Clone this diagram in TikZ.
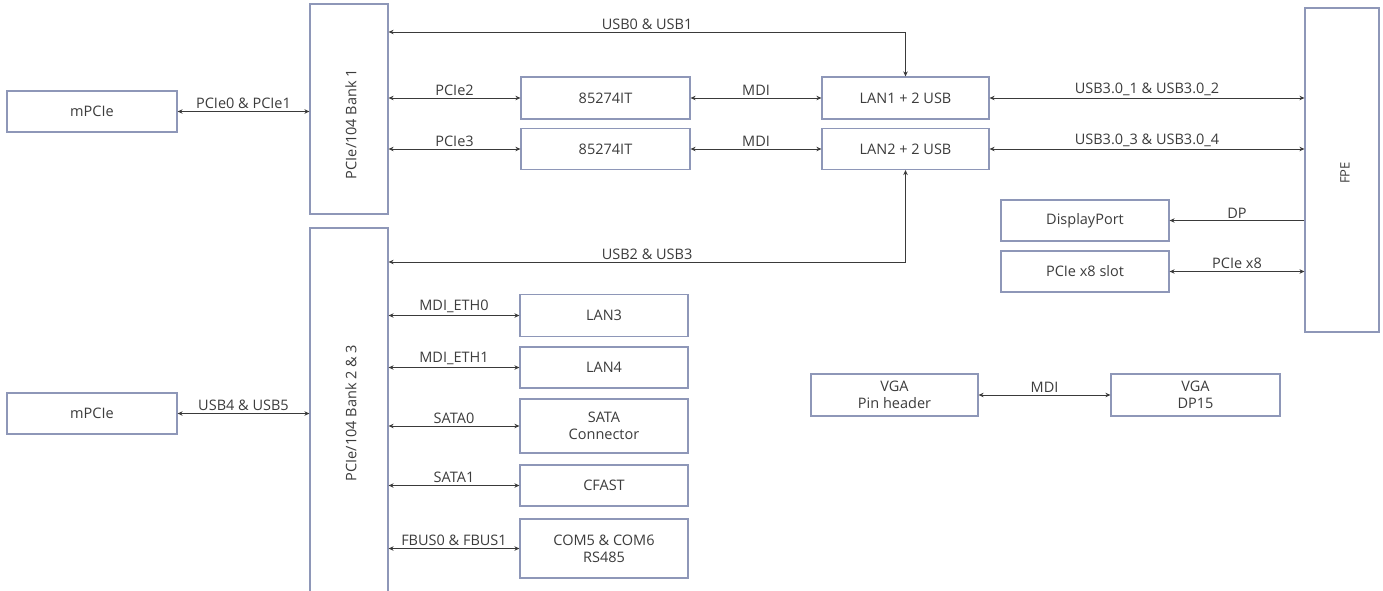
\documentclass[tikz,border=0pt]{standalone}
\usepackage{fontspec}
\setmainfont{Open Sans}
\usetikzlibrary{arrows.meta}
\definecolor{boxline}{HTML}{8E97B8}
\definecolor{wire}{HTML}{3A3A3A}
\definecolor{txt}{HTML}{3C3C3C}
\tikzset{
  blk/.style={draw=boxline, line width=1.2pt, fill=white, inner sep=0pt, align=center,
    text=txt, font=\fontsize{14.5}{17}\selectfont},
  wirel/.style={draw=wire, line width=0.8pt},
  bi/.style={wirel, {Stealth[length=5pt,width=4.5pt]}-{Stealth[length=5pt,width=4.5pt]}},
  uni/.style={wirel, -{Stealth[length=5pt,width=4.5pt]}},
  lbl/.style={above, inner sep=2pt, text=txt, font=\fontsize{14.5}{17}\selectfont},
  vtxt/.style={rotate=90, text=txt, font=\fontsize{14.5}{17}\selectfont}
}
\begin{document}
\begin{tikzpicture}[x=1pt,y=-1pt]
\useasboundingbox (0,0) rectangle (1383,591);
% boxes
\node[blk, minimum width=170pt, minimum height=41pt] (mp1) at (92,111.5) {mPCIe};
\node[blk, minimum width=170pt, minimum height=41pt] (mp2) at (92,413.5) {mPCIe};
\node[blk, minimum width=78pt, minimum height=210pt] (bank1) at (349,109) {};
\node[vtxt] (bank1t) at (351,124) {PCIe/104 Bank 1};
\node[blk, minimum width=78pt, minimum height=366pt] (bank2) at (349,411) {};
\node[vtxt] (bank2t) at (351,413) {PCIe/104 Bank 2 \& 3};
\node[blk, minimum width=169pt, minimum height=42pt] (c1) at (605.5,98) {85274IT};
\node[blk, minimum width=169pt, minimum height=41pt] (c2) at (605.5,149) {85274IT};
\node[blk, minimum width=167pt, minimum height=42pt] (lan1) at (905.5,98) {LAN1 + 2 USB};
\node[blk, minimum width=167pt, minimum height=41pt] (lan2) at (905.5,149) {LAN2 + 2 USB};
\node[blk, minimum width=74pt, minimum height=324pt] (fpe) at (1342,170) {};
\node[rotate=90, text=txt, font=\fontsize{13}{15}\selectfont] (fpet) at (1345,173) {FPE};
\node[blk, minimum width=168pt, minimum height=41pt] (dp) at (1085,220.5) {DisplayPort};
\node[blk, minimum width=168pt, minimum height=41pt] (px8) at (1085,271.5) {PCIe x8 slot};
\node[blk, minimum width=168pt, minimum height=42pt] (lan3) at (604,315.5) {LAN3};
\node[blk, minimum width=168pt, minimum height=41pt] (lan4) at (604,367.5) {LAN4};
\node[blk, minimum width=168pt, minimum height=54pt] (sata) at (604,426) {SATA\\Connector};
\node[blk, minimum width=168pt, minimum height=41pt] (cfast) at (604,485.5) {CFAST};
\node[blk, minimum width=168pt, minimum height=59pt] (com) at (604,548.5) {COM5 \& COM6\\RS485};
\node[blk, minimum width=167pt, minimum height=42pt] (vga1) at (894.5,395) {VGA\\Pin header};
\node[blk, minimum width=169pt, minimum height=42pt] (vga2) at (1195.5,395) {VGA\\DP15};
\coordinate (u01) at (906,32);
\coordinate (u23) at (906,262);
% connectors
\draw[bi] (mp1.east) -- (mp1.east -| bank1.west) node[lbl, midway] {PCIe0 \& PCIe1};
\draw[bi] (mp2.east) -- (mp2.east -| bank2.west) node[lbl, midway] {USB4 \& USB5};
\draw[bi] (bank1.east |- u01) -| (lan1.north) node[lbl, pos=0.25] {USB0 \& USB1};
\draw[bi] (bank1.east |- c1.west) -- (c1.west) node[lbl, midway] {PCIe2};
\draw[bi] (bank1.east |- c2.west) -- (c2.west) node[lbl, midway] {PCIe3};
\draw[bi] (c1.east) -- (lan1.west) node[lbl, midway] {MDI};
\draw[bi] (c2.east) -- (lan2.west) node[lbl, midway] {MDI};
\draw[bi] (lan1.east) -- (lan1.east -| fpe.west) node[lbl, midway] {USB3.0\_1 \& USB3.0\_2};
\draw[bi] (lan2.east) -- (lan2.east -| fpe.west) node[lbl, midway] {USB3.0\_3 \& USB3.0\_4};
\draw[uni] (dp.east -| fpe.west) -- (dp.east) node[lbl, midway] {DP};
\draw[bi] (px8.east) -- (px8.east -| fpe.west) node[lbl, midway] {PCIe x8};
\draw[bi] (bank2.east |- u23) -| (lan2.south) node[lbl, pos=0.25] {USB2 \& USB3};
\draw[bi] (bank2.east |- lan3.west) -- (lan3.west) node[lbl, midway] {MDI\_ETH0};
\draw[bi] (bank2.east |- lan4.west) -- (lan4.west) node[lbl, midway] {MDI\_ETH1};
\draw[bi] (bank2.east |- sata.west) -- (sata.west) node[lbl, midway] {SATA0};
\draw[bi] (bank2.east |- cfast.west) -- (cfast.west) node[lbl, midway] {SATA1};
\draw[bi] (bank2.east |- com.west) -- (com.west) node[lbl, midway] {FBUS0 \& FBUS1};
\draw[bi] (vga1.east) -- (vga2.west) node[lbl, midway] {MDI};
\end{tikzpicture}
\end{document}
